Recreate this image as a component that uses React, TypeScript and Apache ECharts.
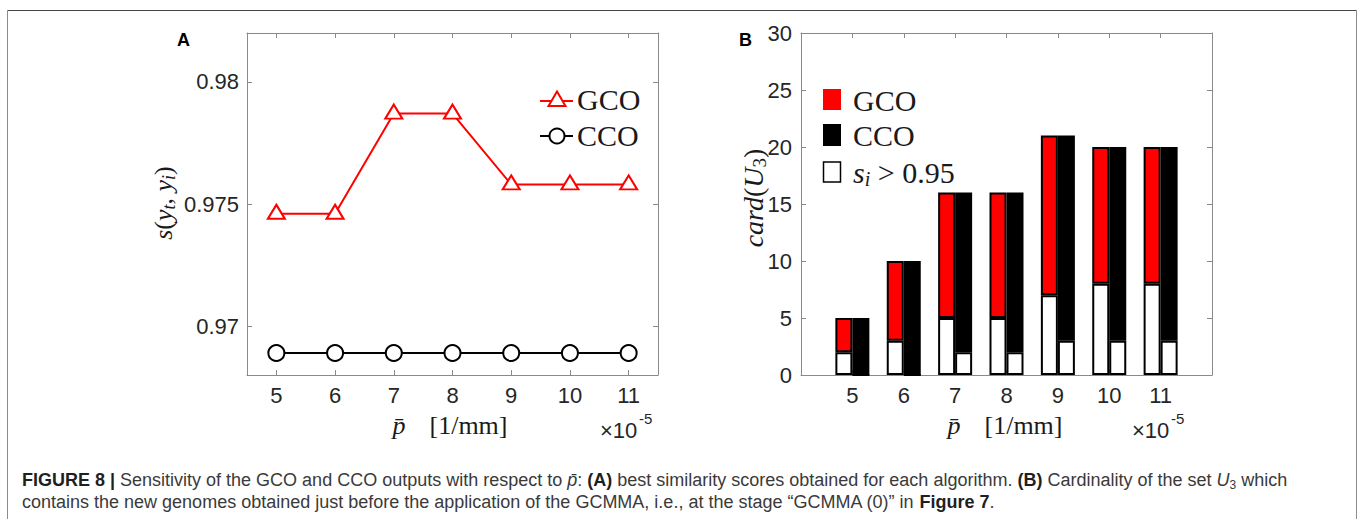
import React, { useEffect, useRef } from 'react';
import * as echarts from 'echarts';

// ---------- data ----------
const pLabels = ['5', '6', '7', '8', '9', '10', '11'];
const pAxisB = ['4', '5', '6', '7', '8', '9', '10', '11', '12'];
const gcoSimilarity = [0.9746, 0.9746, 0.9787, 0.9787, 0.9758, 0.9758, 0.9758];
const ccoSimilarity = [0.9689, 0.9689, 0.9689, 0.9689, 0.9689, 0.9689, 0.9689];
const simTicks = [0.97, 0.975, 0.98];
const gcoCard = [5, 10, 16, 16, 21, 20, 20];
const gcoHigh = [2, 3, 5, 5, 7, 8, 8];
const ccoCard = [5, 10, 16, 16, 21, 20, 20];
const ccoHigh = [0, 0, 2, 2, 3, 3, 3];

// ---------- styles ----------
const AX = '#8a8a8a';
const LBL = '#262626';
const SANS = '"Liberation Sans", Arial, Helvetica, sans-serif';
const SERIF = '"Liberation Serif", "Times New Roman", serif';
const RED = '#ff0000';

const lineCommon = { show: true, onZero: false, lineStyle: { color: AX, width: 1 } };
const tickCommon = { show: true, inside: true, length: 5, lineStyle: { color: AX, width: 1 } };
const labelCommon = { color: LBL, fontSize: 22, fontFamily: SANS };

// pad the 5..11 values onto the 4..12 axis of panel B (empty at both ends)
const padB = (arr: number[]) => ['-', ...arr, '-'];

function txt(x: number, y: number, text: string, opts: any = {}) {
  const { rich, rotation, align, vAlign, ...rest } = opts;
  return {
    type: 'text',
    x,
    y,
    rotation: rotation || 0,
    style: {
      text,
      align: align || 'left',
      textAlign: align || 'left',
      verticalAlign: vAlign || 'middle',
      textVerticalAlign: vAlign || 'middle',
      rich,
      ...rest,
    },
  };
}

const serifRich = (size: number) => ({
  it: { fontFamily: SERIF, fontStyle: 'italic', fontSize: size, lineHeight: size + 4, fill: '#1a1a1a', color: '#1a1a1a' },
  n: { fontFamily: SERIF, fontSize: size, lineHeight: size + 4, fill: '#1a1a1a', color: '#1a1a1a' },
  sub: { fontFamily: SERIF, fontStyle: 'italic', fontSize: Math.round(size * 0.68), lineHeight: Math.round(size * 0.6), verticalAlign: 'bottom', fill: '#1a1a1a', color: '#1a1a1a' },
  subn: { fontFamily: SERIF, fontSize: Math.round(size * 0.68), lineHeight: Math.round(size * 0.6), verticalAlign: 'bottom', fill: '#1a1a1a', color: '#1a1a1a' },
  gap: { fontFamily: SERIF, fontSize: size, width: 24, lineHeight: size + 4 },
});

const CAP = 18;
const capRich = {
  b: { fontFamily: SANS, fontWeight: 'bold', fontSize: CAP, lineHeight: 22, fill: '#1f1f1f', color: '#1f1f1f' },
  n: { fontFamily: SANS, fontSize: CAP, lineHeight: 22, fill: '#3a3a3a', color: '#3a3a3a' },
  i: { fontFamily: SANS, fontStyle: 'italic', fontSize: CAP, lineHeight: 22, fill: '#3a3a3a', color: '#3a3a3a' },
  sub: { fontFamily: SANS, fontSize: 12, lineHeight: 10, verticalAlign: 'bottom', fill: '#3a3a3a', color: '#3a3a3a' },
};

export default function App() {
  const ref = useRef<HTMLDivElement>(null);

  useEffect(() => {
    document.body.style.margin = '0';
    if (!ref.current) return;
    const chart = echarts.init(ref.current, undefined, { renderer: 'svg' });

    const barBase = {
      type: 'bar',
      xAxisIndex: 2,
      yAxisIndex: 2,
      barWidth: 17,
      barGap: '0%',
    };
    const border = { borderColor: '#000', borderWidth: 2 };
    const hideEnds = (v: string) => (v === '4' || v === '12' ? '' : v);

    const option: any = {
      animation: false,
      backgroundColor: '#fff',
      grid: [
        { left: 247, top: 33, width: 411, height: 342 },
        { left: 801, top: 33, width: 411, height: 342 },
      ],
      xAxis: [
        {
          type: 'category', gridIndex: 0, data: pLabels, boundaryGap: true, position: 'bottom',
          axisLine: lineCommon, axisTick: { ...tickCommon, alignWithLabel: true },
          axisLabel: { ...labelCommon, margin: 9 }, splitLine: { show: false },
        },
        {
          type: 'category', gridIndex: 0, data: pLabels, boundaryGap: true, position: 'top',
          axisLine: lineCommon, axisTick: { ...tickCommon, alignWithLabel: true },
          axisLabel: { show: false }, splitLine: { show: false },
        },
        {
          type: 'category', gridIndex: 1, data: pAxisB, boundaryGap: false, position: 'bottom',
          axisLine: lineCommon, axisTick: tickCommon,
          axisLabel: { ...labelCommon, margin: 9, interval: 0, formatter: hideEnds }, splitLine: { show: false },
        },
        {
          type: 'category', gridIndex: 1, data: pAxisB, boundaryGap: false, position: 'top',
          axisLine: lineCommon, axisTick: tickCommon,
          axisLabel: { show: false }, splitLine: { show: false },
        },
      ],
      yAxis: [
        {
          type: 'value', gridIndex: 0, min: 0.968, max: 0.982, position: 'left',
          axisLine: lineCommon, axisTick: { ...tickCommon, customValues: simTicks },
          axisLabel: { ...labelCommon, margin: 8, customValues: simTicks, formatter: (v: number) => String(v) },
          splitLine: { show: false },
        },
        {
          type: 'value', gridIndex: 0, min: 0.968, max: 0.982, position: 'right',
          axisLine: lineCommon, axisTick: { ...tickCommon, customValues: simTicks },
          axisLabel: { show: false }, splitLine: { show: false },
        },
        {
          type: 'value', gridIndex: 1, min: 0, max: 30, interval: 5, position: 'left',
          axisLine: lineCommon, axisTick: tickCommon,
          axisLabel: { ...labelCommon, margin: 9 }, splitLine: { show: false },
        },
        {
          type: 'value', gridIndex: 1, min: 0, max: 30, interval: 5, position: 'right',
          axisLine: lineCommon, axisTick: tickCommon,
          axisLabel: { show: false }, splitLine: { show: false },
        },
      ],
      series: [
        {
          type: 'line', name: 'GCO similarity', xAxisIndex: 0, yAxisIndex: 0, data: gcoSimilarity,
          symbol: 'triangle', symbolSize: [17, 14], symbolOffset: [0, -2], showAllSymbol: true,
          itemStyle: { color: '#fff', borderColor: RED, borderWidth: 2 },
          lineStyle: { color: RED, width: 2 }, z: 3,
        },
        {
          type: 'line', name: 'CCO similarity', xAxisIndex: 0, yAxisIndex: 0, data: ccoSimilarity,
          symbol: 'circle', symbolSize: 16, showAllSymbol: true,
          itemStyle: { color: '#fff', borderColor: '#000', borderWidth: 2 },
          lineStyle: { color: '#000', width: 2 }, z: 3,
        },
        {
          ...barBase, name: 'GCO s>0.95', stack: 'gco',
          data: padB(gcoHigh),
          itemStyle: { color: '#fff', ...border },
        },
        {
          ...barBase, name: 'GCO', stack: 'gco',
          data: padB(gcoCard.map((c, i) => c - gcoHigh[i])),
          itemStyle: { color: RED, ...border },
        },
        {
          ...barBase, name: 'CCO s>0.95', stack: 'cco',
          data: padB(ccoHigh),
          itemStyle: { color: '#fff', ...border },
        },
        {
          ...barBase, name: 'CCO', stack: 'cco',
          data: padB(ccoCard.map((c, i) => c - ccoHigh[i])),
          itemStyle: { color: '#000', ...border },
        },
      ],
      graphic: [
        // figure frame
        { type: 'line', shape: { x1: 7.5, y1: 10.5, x2: 1356.5, y2: 10.5 }, style: { stroke: '#444', lineWidth: 1 } },
        { type: 'line', shape: { x1: 7.5, y1: 10.5, x2: 7.5, y2: 519 }, style: { stroke: '#8c8c8c', lineWidth: 1 } },
        { type: 'line', shape: { x1: 1356.5, y1: 10.5, x2: 1356.5, y2: 519 }, style: { stroke: '#8c8c8c', lineWidth: 1 } },

        // panel letters
        txt(177, 40, 'A', { fontFamily: SANS, fontWeight: 'bold', fontSize: 18, fill: '#000' }),
        txt(739, 40, 'B', { fontFamily: SANS, fontWeight: 'bold', fontSize: 18, fill: '#000' }),

        // panel A legend
        { type: 'line', shape: { x1: 540, y1: 101, x2: 573, y2: 101 }, style: { stroke: RED, lineWidth: 2 } },
        { type: 'polygon', shape: { points: [[557, 91.5], [548.5, 106], [565.5, 106]] }, style: { fill: '#fff', stroke: RED, lineWidth: 2 } },
        txt(577, 99, 'GCO', { fontFamily: SERIF, fontSize: 30, fill: '#1a1a1a' }),
        { type: 'line', shape: { x1: 540, y1: 136, x2: 573, y2: 136 }, style: { stroke: '#000', lineWidth: 2 } },
        { type: 'circle', shape: { cx: 557, cy: 136, r: 7.5 }, style: { fill: '#fff', stroke: '#000', lineWidth: 2 } },
        txt(577, 135, 'CCO', { fontFamily: SERIF, fontSize: 30, fill: '#1a1a1a' }),

        // panel B legend
        { type: 'rect', shape: { x: 823, y: 89, width: 18, height: 21 }, style: { fill: RED } },
        txt(853, 100, 'GCO', { fontFamily: SERIF, fontSize: 30, fill: '#1a1a1a' }),
        { type: 'rect', shape: { x: 823, y: 124, width: 18, height: 22 }, style: { fill: '#000' } },
        txt(853, 135, 'CCO', { fontFamily: SERIF, fontSize: 30, fill: '#1a1a1a' }),
        { type: 'rect', shape: { x: 823.5, y: 162, width: 17, height: 20 }, style: { fill: '#fff', stroke: '#000', lineWidth: 1.5 } },
        txt(853, 172, '{it|s}{sub|i}{n| > 0.95}', { rich: serifRich(30), fontFamily: SERIF, fontSize: 30 }),

        // y axis titles
        txt(163, 203, '{it|s}{n|(}{it|y}{sub|t}{n|, }{it|y}{sub|i}{n|)}', {
          rich: serifRich(26), fontFamily: SERIF, fontSize: 26, rotation: Math.PI / 2, align: 'center',
        }),
        txt(753, 198, '{it|card}{n|(}{it|U}{subn|3}{n|)}', {
          rich: serifRich(28), fontFamily: SERIF, fontSize: 28, rotation: Math.PI / 2, align: 'center',
        }),

        // x axis titles
        txt(450, 425, '{it|p\u0304}{gap| }{n|[1/mm]}', { rich: serifRich(26), fontFamily: SERIF, fontSize: 26, align: 'center' }),
        txt(1005, 425, '{it|p\u0304}{gap| }{n|[1/mm]}', { rich: serifRich(26), fontFamily: SERIF, fontSize: 26, align: 'center' }),

        // exponent multipliers
        txt(600, 430, '\u00d710', { fontFamily: SANS, fontSize: 22, fill: LBL }),
        txt(639, 418, '-5', { fontFamily: SANS, fontSize: 15, fill: LBL }),
        txt(1132, 430, '\u00d710', { fontFamily: SANS, fontSize: 22, fill: LBL }),
        txt(1171, 418, '-5', { fontFamily: SANS, fontSize: 15, fill: LBL }),

        // caption
        txt(22, 480,
          '{b|FIGURE 8 |}{n| Sensitivity of the GCO and CCO outputs with respect to }{i|p\u0304}{n|: }{b|(A)}{n| best similarity scores obtained for each algorithm. }{b|(B)}{n| Cardinality of the set }{i|U}{sub|3}{n| which}',
          { rich: capRich, fontFamily: SANS, fontSize: CAP }),
        txt(22, 502,
          '{n|contains the new genomes obtained just before the application of the GCMMA, i.e., at the stage \u201cGCMMA (0)\u201d in }{b|Figure 7}{n|.}',
          { rich: capRich, fontFamily: SANS, fontSize: CAP }),
      ],
    };

    chart.setOption(option);
    return () => chart.dispose();
  }, []);

  return <div ref={ref} style={{ width: 1360, height: 519 }} />;
}
